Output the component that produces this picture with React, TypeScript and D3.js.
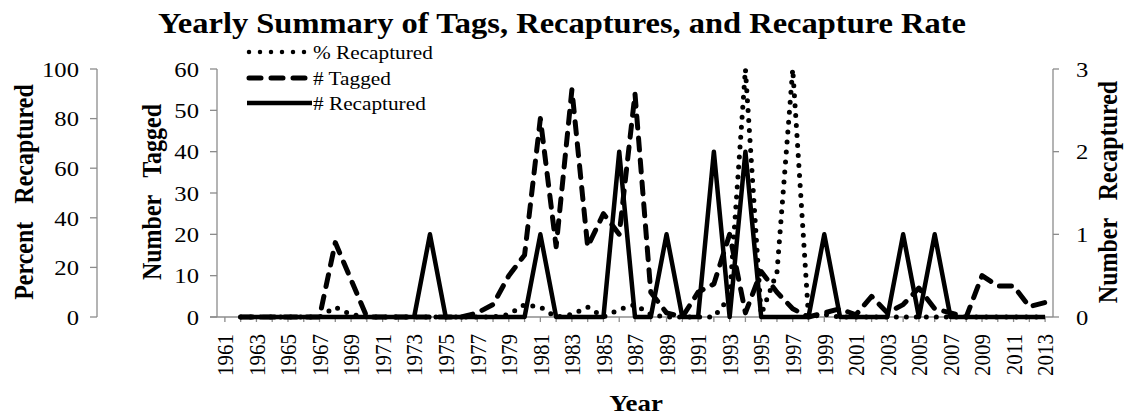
import * as d3 from "d3";
import { useEffect } from "react";

const years = d3.range(1961, 2014);
const dataYears = d3.range(1962, 2014);

// 1962..2013
const tagged = [0, 0, 0, 0, 0, 0, 18, 9, 0, 0, 0, 0, 0, 0, 0, 1, 3, 10, 15, 48, 17, 55, 17, 25, 20, 54, 6, 1, 0, 6, 8, 20, 1, 11, 6, 2, 0, 1, 2, 0.5, 5, 1, 3, 7, 2, 1, 0, 10, 7.5, 7.5, 2.5, 3.5];
const recaptured = [0, 0, 0, 0, 0, 0, 0, 0, 0, 0, 0, 0, 1, 0, 0, 0, 0, 0, 0, 1, 0, 0, 0, 0, 2, 0, 0, 1, 0, 0, 2, 0, 2, 0, 0, 0, 0, 1, 0, 0, 0, 0, 1, 0, 1, 0, 0, 0, 0, 0, 0, 0];
const pctRecaptured = [0, 0, 0, 0, 0, 0, 4, 1, 0, 0, 0, 0, 0, 0, 0, 0, 0, 1, 5, 4, 0, 1, 4, 0, 3, 5, 1, 0, 0, 0, 0, 8, 100, 1, 18, 100, 0, 1, 0, 0, 0, 0, 0, 0, 0, 0, 0, 0, 0, 0, 0, 0];

const pctTicks = [0, 20, 40, 60, 80, 100];
const taggedTicks = [0, 10, 20, 30, 40, 50, 60];
const recapTicks = [0, 1, 2, 3];

const FONT = "'Liberation Serif', 'Times New Roman', serif";
const SX = 1.12;
const AXIS = "#8c8c8c";

const T = (p: any) => (
  <text
    transform={`translate(${p.x},${p.y}) scale(${SX},1)${p.rot ? " rotate(-90)" : ""}`}
    textAnchor={p.anchor || "start"}
    dy={p.dy}
    fontSize={p.size}
    fontWeight={p.bold ? "bold" : "normal"}
    fontFamily={FONT}
    style={{ whiteSpace: "pre" }}
    fill="#000"
  >
    {p.children}
  </text>
);

export default function App() {
  useEffect(() => {
    document.body.style.margin = "0";
  }, []);

  const width = 1125;
  const height = 419;
  const left = 217;
  const right = 1053;
  const top = 69;
  const bottom = 317;
  const pctAxisX = 97;

  const x = d3.scalePoint<number>().domain(years).range([left, right]).padding(0.5);
  const yPct = d3.scaleLinear().domain([0, 100]).range([bottom, top]);
  const yTag = d3.scaleLinear().domain([0, 60]).range([bottom, top]);
  const yRec = d3.scaleLinear().domain([0, 3]).range([bottom, top]);

  const line = (vals: number[], y: d3.ScaleLinear<number, number>) =>
    d3
      .line<number>()
      .x((_, i) => x(dataYears[i]) as number)
      .y((d) => y(d))(vals) as string;

  return (
    <svg width={width} height={height} style={{ display: "block", background: "#fff" }}>
      <text x={562} y={33} textAnchor="middle" fontFamily={FONT} fontWeight="bold" fontSize={30} textLength={808} lengthAdjust="spacingAndGlyphs">
        Yearly Summary of Tags, Recaptures, and Recapture Rate
      </text>

      {/* percent axis (outer left) */}
      <line x1={pctAxisX} x2={pctAxisX} y1={top} y2={bottom} stroke={AXIS} strokeWidth={1.3} />
      {pctTicks.map((t) => (
        <g key={"p" + t}>
          <line x1={pctAxisX - 7} x2={pctAxisX} y1={yPct(t)} y2={yPct(t)} stroke={AXIS} strokeWidth={1.3} />
          <T x={79} y={yPct(t)} dy="0.35em" anchor="end" size={22}>{t}</T>
        </g>
      ))}
      <T x={33} y={192} anchor="middle" size={24} bold rot>{"Percent   Recaptured"}</T>

      {/* tagged axis (inner left) */}
      <line x1={left} x2={left} y1={top} y2={bottom} stroke={AXIS} strokeWidth={1.3} />
      {taggedTicks.map((t) => (
        <g key={"t" + t}>
          <line x1={left - 7} x2={left} y1={yTag(t)} y2={yTag(t)} stroke={AXIS} strokeWidth={1.3} />
          <T x={199} y={yTag(t)} dy="0.35em" anchor="end" size={22}>{t}</T>
        </g>
      ))}
      <T x={161} y={192} anchor="middle" size={24} bold rot>{"Number   Tagged"}</T>

      {/* recaptured axis (right) */}
      <line x1={right} x2={right} y1={top} y2={bottom} stroke={AXIS} strokeWidth={1.3} />
      {recapTicks.map((t) => (
        <g key={"r" + t}>
          <line x1={right} x2={right + 6} y1={yRec(t)} y2={yRec(t)} stroke={AXIS} strokeWidth={1.3} />
          <T x={1076} y={yRec(t)} dy="0.35em" anchor="start" size={22}>{t}</T>
        </g>
      ))}
      <T x={1117} y={192} anchor="middle" size={24} bold rot>{"Number   Recaptured"}</T>

      {/* year axis */}
      <line x1={left - 7} x2={right} y1={bottom} y2={bottom} stroke={AXIS} strokeWidth={1.3} />
      {years.map((yr) => (
        <g key={yr}>
          <line x1={x(yr)} x2={x(yr)} y1={bottom} y2={bottom + 5} stroke={AXIS} strokeWidth={1.3} />
          {(yr - 1961) % 2 === 0 && (
            <T x={x(yr) as number} y={334} dy="0.35em" anchor="end" size={21} rot>{yr}</T>
          )}
        </g>
      ))}
      <T x={636} y={411} anchor="middle" size={24} bold>Year</T>

      {/* series */}
      <path d={line(tagged, yTag)} fill="none" stroke="#000" strokeWidth={5} strokeDasharray="12 10" strokeLinecap="round" strokeLinejoin="round" />
      <path d={line(pctRecaptured, yPct)} fill="none" stroke="#000" strokeWidth={5} strokeDasharray="0 10" strokeLinecap="round" strokeLinejoin="round" />
      <path d={line(recaptured, yRec)} fill="none" stroke="#000" strokeWidth={4.5} strokeLinejoin="round" />

      {/* legend */}
      <line x1={249} x2={305} y1={52} y2={52} stroke="#000" strokeWidth={4.5} strokeDasharray="0 11" strokeLinecap="round" />
      <T x={313} y={52} dy="0.35em" size={19}>% Recaptured</T>
      <line x1={249} x2={305} y1={78} y2={78} stroke="#000" strokeWidth={5} strokeDasharray="12 10" strokeLinecap="round" />
      <T x={313} y={78} dy="0.35em" size={19}># Tagged</T>
      <line x1={247} x2={312} y1={103} y2={103} stroke="#000" strokeWidth={4.5} />
      <T x={313} y={103} dy="0.35em" size={19}># Recaptured</T>
    </svg>
  );
}
